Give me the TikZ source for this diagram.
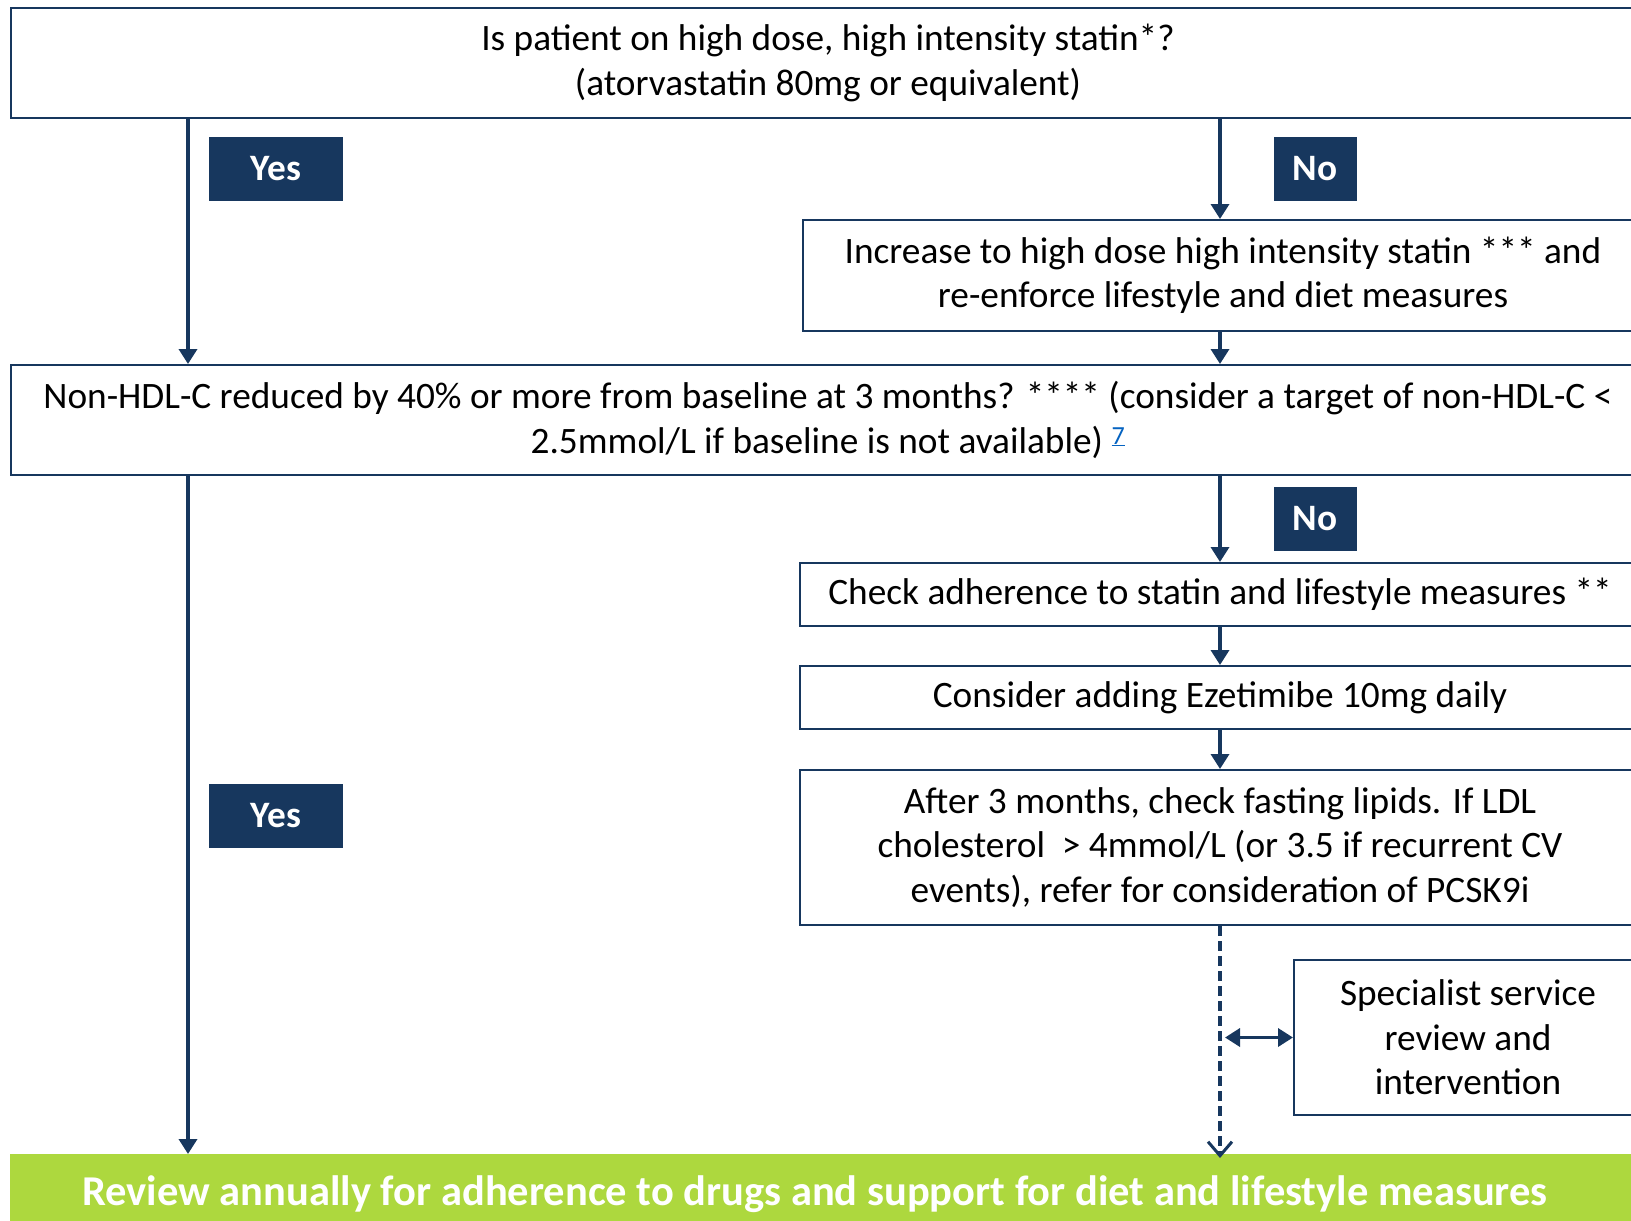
\documentclass[tikz,border=0pt]{standalone}
\usepackage{fontspec}
\setmainfont{Carlito}
\usetikzlibrary{arrows.meta,positioning,calc}
\definecolor{Navy}{HTML}{17375E}
\definecolor{Lime}{HTML}{ADD83E}
\definecolor{LinkBlue}{HTML}{0563C1}
\tikzset{
  box/.style={draw=Navy,line width=2pt,fill=white,align=center,inner sep=0pt,font=\fontsize{37.3}{44.5}\selectfont},
  tag/.style={fill=Navy,text=white,inner sep=0pt,minimum height=64pt,font=\fontsize{37.3}{44.5}\selectfont\bfseries},
  arr/.style={-{Triangle[length=15pt,width=18pt]},line width=3.5pt,draw=Navy},
  dasharr/.style={-{Straight Barb[length=14pt,width=24pt,line width=3pt]},line width=3.5pt,draw=Navy,dash pattern=on 10pt off 5pt},
  bar/.style={fill=Lime,inner sep=0pt},
  bartxt/.style={text=white,font=\fontsize{42.5}{50}\selectfont\bfseries},
}
\begin{document}
\begin{tikzpicture}[x=1pt,y=-1pt]
 \useasboundingbox (0,0) rectangle (1631,1221);
 \clip (0,0) rectangle (1631,1221);
 \coordinate (lx) at (188,0);
 \coordinate (rx) at (1220,0);
 % questions and steps
 \node[box,anchor=north west,minimum width=1634pt,minimum height=110pt] (q1) at (10,7) {Is patient on high dose, high intensity statin*?\\(atorvastatin 80mg or equivalent)};
 \node[box,anchor=north west,minimum width=840pt,minimum height=111pt] (inc) at (802,219) {Increase to high dose high intensity statin *** and\\re-enforce lifestyle and diet measures};
 \node[box,anchor=north west,minimum width=1634pt,minimum height=110pt] (q2) at (10,364) {Non-HDL-C reduced by 40\% or more from baseline at 3 months? **** (consider a target of non-HDL-C <\\2.5mmol/L if baseline is not available) \textsuperscript{\color{LinkBlue}\underline{7}}};
 \node[box,anchor=north west,minimum width=840pt,minimum height=63pt] (chk) at (799,562) {Check adherence to statin and lifestyle measures **};
 \node[box,anchor=north west,minimum width=840pt,minimum height=63pt] (eze) at (799,665) {Consider adding Ezetimibe 10mg daily};
 \node[box,anchor=north west,minimum width=840pt,minimum height=155pt] (aft) at (799,769) {After 3 months, check fasting lipids. If LDL\\cholesterol~~> 4mmol/L (or 3.5 if recurrent CV\\events), refer for consideration of PCSK9i};
 \node[box,anchor=north west,minimum width=348pt,minimum height=155pt] (spec) at (1293,959) {Specialist service\\review and\\intervention};
 \node[bar,anchor=north west,minimum width=1640pt,minimum height=80pt] (rev) at (10,1154) {};
 \node[bartxt] (revtxt) at (815,1194) {Review annually for adherence to drugs and support for diet and lifestyle measures};
 % yes / no tags
 \node[tag,minimum width=134pt] (yes1) at (276,169) {Yes};
 \node[tag,minimum width=83pt] (no1) at (1315,169) {No};
 \node[tag,minimum width=83pt] (no2) at (1315,519) {No};
 \node[tag,minimum width=134pt] (yes2) at (276,816) {Yes};
 % connectors
 \draw[arr] (q1.south -| lx) -- (q2.north -| lx);
 \draw[arr] (q2.south -| lx) -- (rev.north -| lx);
 \draw[arr] (q1.south -| rx) -- (inc.north -| rx);
 \draw[arr] (inc.south -| rx) -- (q2.north -| rx);
 \draw[arr] (q2.south -| rx) -- (chk.north -| rx);
 \draw[arr] (chk.south -| rx) -- (eze.north -| rx);
 \draw[arr] (eze.south -| rx) -- (aft.north -| rx);
 \draw[dasharr] (aft.south -| rx) -- ([yshift=-4pt]rev.north -| rx);
 \draw[arr,{Triangle[length=15pt,width=18pt]}-{Triangle[length=15pt,width=18pt]}] ([xshift=5pt]spec.west -| rx) -- (spec.west);
\end{tikzpicture}
\end{document}
